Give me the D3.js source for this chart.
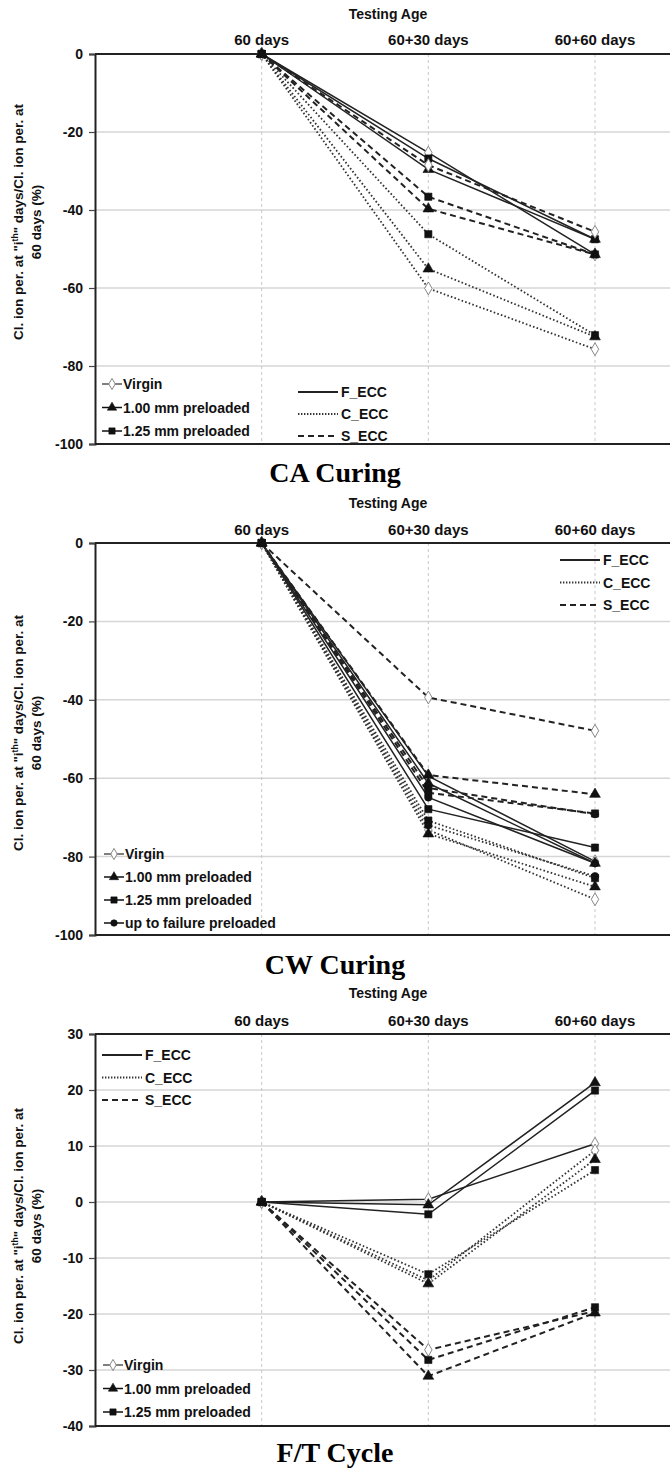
<!DOCTYPE html>
<html>
<head>
<meta charset="utf-8">
<script src="https://cdn.jsdelivr.net/npm/d3@7"></script>
<style>
  html, body { margin: 0; padding: 0; background: #fff; }
  svg { display: block; }
</style>
</head>
<body>
<svg id="chart" width="670" height="1471"></svg>
<script>
// Testing ages on the category axis
const ages = ["60 days", "60+30 days", "60+60 days"];
// Preloading levels (marker legend)
const preloads = ["Virgin", "1.00 mm preloaded", "1.25 mm preloaded", "up to failure preloaded"];
// Mixtures (line style legend)
const mixes = ["F_ECC", "C_ECC", "S_ECC"];

// Change of Cl. ion penetration relative to 60 days (%), one row per preload level
const caF = [[0, -25.3, -51.4], [0, -29.6, -47.5], [0, -26.8, -47.5]];
const caC = [[0, -60.1, -75.7], [0, -55.1, -72.5], [0, -46.2, -72.1]];
const caS = [[0, -28.5, -45.6], [0, -39.7, -51.4], [0, -36.6, -51.4]];

const cwF = [[0, -59.5, -81.2], [0, -61.3, -81.7], [0, -67.9, -77.7], [0, -64.9, -81.7]];
const cwC = [[0, -73.2, -90.9], [0, -74.2, -87.7], [0, -70.8, -85.5], [0, -72.0, -85.0]];
const cwS = [[0, -39.4, -47.9], [0, -59.2, -64.1], [0, -63.7, -69.0], [0, -62.5, -69.2]];

const ftF = [[0, 0.5, 10.4], [0, -0.5, 21.3], [0, -2.2, 19.9]];
const ftC = [[0, -14.0, 9.2], [0, -14.6, 7.6], [0, -12.9, 5.7]];
const ftS = [[0, -26.4, -19.5], [0, -31.1, -19.8], [0, -28.2, -18.8]];

const caTicks = [0, -20, -40, -60, -80, -100];
const cwTicks = [0, -20, -40, -60, -80, -100];
const ftTicks = [30, 20, 10, 0, -10, -20, -30, -40];

const panelTitles = ["CA Curing", "CW Curing", "F/T Cycle"];
const xTitle = "Testing Age";

const svg = d3.select("#chart");
const FONT = "Liberation Sans, Arial, sans-serif";

// line style per mixture
const dashFor = { "F_ECC": null, "C_ECC": "1.6,2.2", "S_ECC": "6,4" };
const widthFor = { "F_ECC": 1.5, "C_ECC": 1.8, "S_ECC": 2.0 };
const strokeFor = { "F_ECC": "#222", "C_ECC": "#333", "S_ECC": "#222" };

// marker per preload level
const symFor = [d3.symbolDiamond, d3.symbolTriangle, d3.symbolSquare, d3.symbolCircle];
const symSize = [48, 50, 52, 44];

function drawMarker(g, i, x, y, scale = 1) {
  const p = g.append("path")
    .attr("d", d3.symbol().type(symFor[i]).size(symSize[i] * scale)())
    .attr("transform", `translate(${x},${y})`);
  if (i === 0) p.attr("fill", "#fff").attr("stroke", "#888").attr("stroke-width", 1);
  else p.attr("fill", "#111").attr("stroke", "#111").attr("stroke-width", 0.6);
}

function drawPanel(cfg) {
  const g = svg.append("g");
  const x = d3.scaleLinear().domain([0, ages.length]).range([95, 595]);
  const y = d3.scaleLinear().domain(cfg.domain).range([cfg.bottom, cfg.top]);
  const xRight = 720;

  // horizontal gridlines (inner ticks only)
  g.selectAll(".hg").data(cfg.ticks.filter(t => t !== cfg.domain[0] && t !== cfg.domain[1]))
    .enter().append("line")
    .attr("x1", x(0)).attr("x2", xRight)
    .attr("y1", d => y(d)).attr("y2", d => y(d))
    .attr("stroke", "#d6d6d6").attr("stroke-width", 1.5);

  // vertical dashed gridlines at each testing age
  g.selectAll(".vg").data(ages).enter().append("line")
    .attr("x1", (d, i) => x(i + 1)).attr("x2", (d, i) => x(i + 1))
    .attr("y1", y(cfg.domain[1])).attr("y2", y(cfg.domain[0]))
    .attr("stroke", "#c8c8c8").attr("stroke-width", 1).attr("stroke-dasharray", "3,3");

  // frame: top and bottom borders
  g.append("line").attr("x1", x(0)).attr("x2", xRight).attr("y1", y(cfg.domain[1])).attr("y2", y(cfg.domain[1]))
    .attr("stroke", "#222").attr("stroke-width", 2);
  g.append("line").attr("x1", x(0)).attr("x2", xRight).attr("y1", y(cfg.domain[0])).attr("y2", y(cfg.domain[0]))
    .attr("stroke", "#222").attr("stroke-width", 2);

  // left axis with ticks
  const yAxis = d3.axisLeft(y).tickValues(cfg.ticks).tickSize(6).tickPadding(6).tickFormat(d3.format("d"));
  const ax = g.append("g").attr("transform", `translate(${x(0)},0)`).call(yAxis);
  ax.select(".domain").attr("stroke", "#222").attr("stroke-width", 2);
  ax.selectAll(".tick line").attr("stroke", "#444").attr("stroke-width", 1.2);
  ax.selectAll(".tick text").attr("font-family", FONT).attr("font-weight", "bold")
    .attr("font-size", 14).attr("fill", "#111").text(d => String(d));

  // top category labels
  g.selectAll(".cat").data(ages).enter().append("text")
    .attr("x", (d, i) => x(i + 1)).attr("y", cfg.catY)
    .attr("text-anchor", "middle").attr("font-family", FONT).attr("font-weight", "bold")
    .attr("font-size", 15).attr("fill", "#111").text(d => d);
  g.append("text").attr("x", 388).attr("y", cfg.titleY)
    .attr("text-anchor", "middle").attr("font-family", FONT).attr("font-weight", "bold")
    .attr("font-size", 14).attr("fill", "#111").text(xTitle);

  // y axis title (two lines, rotated)
  const yt = g.append("text").attr("transform", `translate(23,${cfg.yTitleC}) rotate(-90)`)
    .attr("text-anchor", "middle").attr("font-family", FONT).attr("font-weight", "bold")
    .attr("font-size", 13.5).attr("fill", "#111");
  yt.append("tspan").attr("x", 0).attr("dy", 0).text("Cl. ion per. at \"i");
  yt.append("tspan").attr("font-size", 8.5).attr("dy", -5).text("th");
  yt.append("tspan").attr("dy", 5).text("\" days/Cl. ion per. at");
  g.append("text").attr("transform", `translate(41,${cfg.yTitleC}) rotate(-90)`)
    .attr("text-anchor", "middle").attr("font-family", FONT).attr("font-weight", "bold")
    .attr("font-size", 13.5).attr("fill", "#111").text("60 days (%)");

  // series lines
  const line = d3.line().x((d, i) => x(i + 1)).y(d => y(d));
  cfg.series.forEach(s => {
    s.rows.forEach(row => {
      g.append("path").attr("d", line(row)).attr("fill", "none")
        .attr("stroke", strokeFor[s.mix]).attr("stroke-width", widthFor[s.mix])
        .attr("stroke-dasharray", dashFor[s.mix]);
    });
  });
  // markers
  cfg.series.forEach(s => {
    s.rows.forEach((row, pi) => {
      row.forEach((v, i) => drawMarker(g, pi, x(i + 1), y(v)));
    });
  });
  // shared start point marker on top
  drawMarker(g, 2, x(1), y(0));

  // marker legend
  const nPre = cfg.series[0].rows.length;
  preloads.slice(0, nPre).forEach((p, i) => {
    const ly = cfg.preLeg.y + i * cfg.preLeg.dy;
    g.append("line").attr("x1", cfg.preLeg.x).attr("x2", cfg.preLeg.x + 20)
      .attr("y1", ly).attr("y2", ly).attr("stroke", i === 0 ? "#555" : "#111").attr("stroke-width", 1.5);
    drawMarker(g, i, cfg.preLeg.x + 10, ly, 0.75);
    g.append("text").attr("x", cfg.preLeg.x + 21).attr("y", ly + 5)
      .attr("font-family", FONT).attr("font-weight", "bold").attr("font-size", 14)
      .attr("fill", "#111").text(p);
  });

  // mixture legend
  mixes.forEach((m, i) => {
    const ly = cfg.mixLeg.y + i * cfg.mixLeg.dy;
    g.append("line").attr("x1", cfg.mixLeg.x).attr("x2", cfg.mixLeg.x + 40)
      .attr("y1", ly).attr("y2", ly).attr("stroke", strokeFor[m])
      .attr("stroke-width", 2).attr("stroke-dasharray", m === "C_ECC" ? "1.4,1.6" : dashFor[m]);
    g.append("text").attr("x", cfg.mixLeg.x + 43).attr("y", ly + 5)
      .attr("font-family", FONT).attr("font-weight", "bold").attr("font-size", 14)
      .attr("fill", "#111").text(m);
  });

  // panel title
  g.append("text").attr("x", 335).attr("y", cfg.panelY).attr("text-anchor", "middle")
    .attr("font-family", "Liberation Serif, 'Times New Roman', serif").attr("font-weight", "bold")
    .attr("font-size", 28).attr("fill", "#000").text(cfg.title);
}

drawPanel({
  title: panelTitles[0], domain: [-100, 0], top: 54, bottom: 444, ticks: caTicks,
  catY: 45, titleY: 19, yTitleC: 222, panelY: 482,
  series: [{ mix: "F_ECC", rows: caF }, { mix: "C_ECC", rows: caC }, { mix: "S_ECC", rows: caS }],
  preLeg: { x: 102, y: 384, dy: 23.5 }, mixLeg: { x: 298, y: 392, dy: 22 }
});
drawPanel({
  title: panelTitles[1], domain: [-100, 0], top: 543, bottom: 935, ticks: cwTicks,
  catY: 535, titleY: 508, yTitleC: 733, panelY: 974,
  series: [{ mix: "F_ECC", rows: cwF }, { mix: "C_ECC", rows: cwC }, { mix: "S_ECC", rows: cwS }],
  preLeg: { x: 104, y: 854, dy: 23 }, mixLeg: { x: 560, y: 560, dy: 22.5 }
});
drawPanel({
  title: panelTitles[2], domain: [-40, 30], top: 1034, bottom: 1426, ticks: ftTicks,
  catY: 1026, titleY: 998, yTitleC: 1226, panelY: 1462,
  series: [{ mix: "F_ECC", rows: ftF }, { mix: "C_ECC", rows: ftC }, { mix: "S_ECC", rows: ftS }],
  preLeg: { x: 103, y: 1365, dy: 23.5 }, mixLeg: { x: 102, y: 1055, dy: 22.5 }
});
</script>
</body>
</html>
